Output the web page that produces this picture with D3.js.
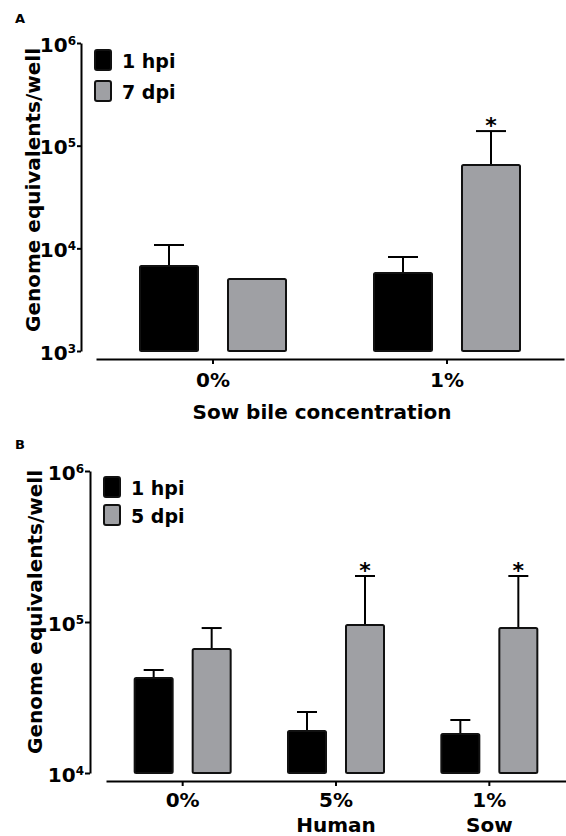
<!DOCTYPE html>
<html>
<head>
<meta charset="utf-8">
<style>
  body { margin: 0; background: #fff; }
  svg { display: block; font-family: "DejaVu Sans", sans-serif; font-weight: bold; }
</style>
</head>
<body>
<svg id="chart" width="566" height="836"></svg>
<script src="https://d3js.org/d3.v7.min.js"></script>
<script>

// panel A - sow bile only
var groupsA = [["0%"], ["1%"]];
var seriesA = ["1 hpi", "7 dpi"];
var hpiA = [6730, 5750];
var hpiErrA = [4040, 2480];
var dpiA = [5030, 64700];
var dpiErrA = [0, 74000];
var sigA = [false, true];
var ticksA = [1e3, 1e4, 1e5, 1e6];

// panel B - human vs sow bile
var groupsB = [["0%"], ["5%", "Human"], ["1%", "Sow"]];
var seriesB = ["1 hpi", "5 dpi"];
var hpiB = [42600, 18970, 18120];
var hpiErrB = [5500, 6380, 4320];
var dpiB = [66200, 95500, 91200];
var dpiErrB = [25000, 106200, 110500];
var sigB = [false, true, true];
var ticksB = [1e4, 1e5, 1e6];

var colors = ["#000000", "#9fa0a4"];
var svg = d3.select("#chart");

function Panel(o) {
  var g = svg.append("g");

  var x = d3.scaleBand()
      .domain(d3.range(o.groups.length))
      .range(o.xRange);

  var y = d3.scaleLog()
      .domain([o.ticks[0], o.ticks[o.ticks.length - 1]])
      .range(o.yRange);

  // panel letter
  g.append("text")
      .attr("x", 15)
      .attr("y", o.letterY)
      .attr("font-size", 13)
      .text(o.letter);

  // y axis
  var ya = g.append("g")
      .attr("transform", "translate(" + o.yAxisX + ",0)")
      .call(d3.axisLeft(y).tickValues(o.ticks).tickSizeInner(o.tickLen).tickSizeOuter(0).tickFormat(""));
  ya.select(".domain").attr("stroke-width", 2);
  ya.selectAll(".tick line").attr("stroke-width", 2);
  ya.selectAll(".tick text").remove();
  ya.selectAll(".tick").append("text")
      .attr("fill", "#000")
      .attr("text-anchor", "end")
      .attr("x", -(o.tickLen + 1))
      .attr("y", 8)
      .attr("font-size", 20)
      .attr("font-family", "DejaVu Sans")
      .each(function(d) {
        var t = d3.select(this);
        t.append("tspan").text("10");
        t.append("tspan").attr("font-size", 12).attr("dy", -7).text(Math.round(Math.log10(d)));
      });

  // y title
  g.append("text")
      .attr("transform", "translate(" + o.titleX + "," + o.titleY + ") rotate(-90)")
      .attr("text-anchor", "middle")
      .attr("font-size", 20)
      .text("Genome equivalents/well");

  // x axis
  var xa = g.append("g")
      .attr("transform", "translate(0," + o.xAxisY + ")")
      .call(d3.axisBottom(x).tickSizeInner(5).tickSizeOuter(0).tickFormat(""));
  xa.select(".domain").attr("stroke-width", 2);
  xa.selectAll(".tick line").attr("stroke-width", 2);
  xa.selectAll(".tick text").remove();
  xa.selectAll(".tick").append("text")
      .attr("fill", "#000")
      .attr("text-anchor", "middle")
      .attr("font-size", 20)
      .attr("font-family", "DejaVu Sans")
      .each(function(d) {
        var t = d3.select(this);
        o.groups[d].forEach(function(s, k) {
          t.append("tspan").attr("x", 0).attr("y", o.labelY + k * o.labelGap).text(s);
        });
      });

  if (o.xTitle) {
    g.append("text")
        .attr("x", o.xTitleX)
        .attr("y", o.xTitleY)
        .attr("text-anchor", "middle")
        .attr("font-size", 20)
        .text(o.xTitle);
  }

  // bars
  var base = y.domain()[0];
  [o.hpi, o.dpi].forEach(function(vals, s) {
    var errs = s == 0 ? o.hpiErr : o.dpiErr;
    vals.forEach(function(v, i) {
      var cx = x(i) + x.bandwidth() / 2 + (s == 0 ? -o.offset : o.offset);
      if (errs[i] > 0) {
        var top = y(v + errs[i]);
        g.append("line")
            .attr("x1", cx).attr("x2", cx)
            .attr("y1", y(v)).attr("y2", top)
            .attr("stroke", "#000").attr("stroke-width", o.errWidth);
        g.append("line")
            .attr("x1", cx - o.barW / 4).attr("x2", cx + o.barW / 4)
            .attr("y1", top).attr("y2", top)
            .attr("stroke", "#000").attr("stroke-width", o.errWidth);
        if (s == 1 && o.sig[i]) {
          g.append("text")
              .attr("x", cx)
              .attr("y", top + 2)
              .attr("text-anchor", "middle")
              .attr("font-size", 22)
              .text("*");
        }
      }
      g.append("rect")
          .attr("x", cx - o.barW / 2 + 1)
          .attr("y", y(v))
          .attr("width", o.barW - 2)
          .attr("height", y(base) - y(v))
          .attr("rx", 1.5)
          .attr("fill", colors[s])
          .attr("stroke", "#111")
          .attr("stroke-width", 2);
    });
  });

  // legend
  o.series.forEach(function(name, s) {
    var ly = o.legendY + s * o.legendGap;
    g.append("rect")
        .attr("x", o.legendX + 1)
        .attr("y", ly + 1)
        .attr("width", 16)
        .attr("height", 20)
        .attr("rx", 2)
        .attr("fill", colors[s])
        .attr("stroke", "#111")
        .attr("stroke-width", 2);
    g.append("text")
        .attr("x", o.legendX + 28)
        .attr("y", ly + 19)
        .attr("font-size", 19)
        .text(name);
  });
}

Panel({
  letter: "A", letterY: 23,
  groups: groupsA, series: seriesA,
  hpi: hpiA, hpiErr: hpiErrA, dpi: dpiA, dpiErr: dpiErrA, sig: sigA,
  ticks: ticksA,
  xRange: [96, 564], yRange: [351, 43],
  yAxisX: 81, tickLen: 4, xAxisY: 359,
  titleX: 40, titleY: 190,
  labelY: 28, labelGap: 25,
  xTitle: "Sow bile concentration", xTitleX: 322, xTitleY: 419,
  offset: 44, barW: 60, errWidth: 2,
  legendX: 94, legendY: 49, legendGap: 31
});

Panel({
  letter: "B", letterY: 449,
  groups: groupsB, series: seriesB,
  hpi: hpiB, hpiErr: hpiErrB, dpi: dpiB, dpiErr: dpiErrB, sig: sigB,
  ticks: ticksB,
  xRange: [106, 566], yRange: [773, 471],
  yAxisX: 90, tickLen: 5, xAxisY: 781,
  titleX: 42, titleY: 612,
  labelY: 26, labelGap: 25,
  offset: 29, barW: 40, errWidth: 2,
  legendX: 103, legendY: 476, legendGap: 28
});

</script>
</body>
</html>
